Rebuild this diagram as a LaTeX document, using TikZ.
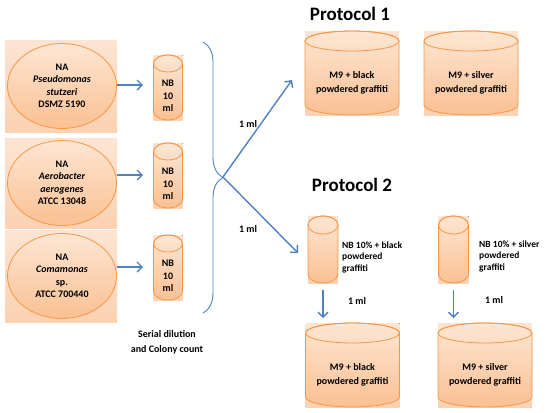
\documentclass[tikz,border=0pt]{standalone}
\usepackage{fontspec}
\setmainfont{Carlito}
\usetikzlibrary{arrows.meta, shapes.geometric, positioning, calc, decorations.pathreplacing, backgrounds}

\definecolor{naranja}{HTML}{F79646}
\definecolor{claro}{HTML}{FDE6D3}
\definecolor{medio}{HTML}{FAC093}
\definecolor{fondoA}{HTML}{FDE4D2}
\definecolor{fondoB}{HTML}{FBD2B2}
\definecolor{azul}{HTML}{4F81BD}

% cilindro alrededor de la cara de un nodo: nombre, radio x, radio y
\newcommand\cilindro[3]{%
    \fill[fondo] ($(#1.north west)+(0,-2*#3)$) rectangle (#1.south east);
    \path[cuerpo] ($(#1.north west)+(0,-#3)$) -- ($(#1.south west)+(0,-#3)$)
        arc[start angle=180, end angle=360, x radius=#2pt, y radius=#3pt]
        -- ($(#1.north east)+(0,-#3)$)
        arc[start angle=0, end angle=180, x radius=#2pt, y radius=#3pt] -- cycle;
    \draw[borde] ($(#1.north)+(0,-#3)$) ellipse [x radius=#2pt, y radius=#3pt];
}

\begin{document}
\begin{tikzpicture}[
    x=1pt, y=-1pt,
    every node/.style={font=\fontsize{10}{12.5}\selectfont\bfseries}
]
    \tikzset{
        fondo/.style={top color=fondoA, bottom color=fondoB},
        borde/.style={draw=naranja, line width=0.8pt},
        cuerpo/.style={borde, top color=claro, bottom color=medio},
        caja/.style={rectangle, inner sep=0pt, outer sep=0pt, fondo},
        placa/.style={ellipse, borde, minimum width=109pt, minimum height=85pt,
            top color=claro, bottom color=medio, align=center, inner sep=0pt},
        tubo/.style={rectangle, minimum width=29pt, minimum height=48pt,
            align=center, inner sep=0pt, outer sep=0pt},
        frasco/.style={tubo, minimum width=94pt, minimum height=64pt,
            font=\fontsize{10}{13.5}\selectfont\bfseries},
        flecha/.style={azul, line width=1.4pt, -{Straight Barb[length=5pt, width=10pt]}},
        llave/.style={azul, line width=0.9pt, decorate, decoration={brace, amplitude=20pt}},
        titulo/.style={font=\fontsize{19}{22}\selectfont\bfseries},
        texto/.style={align=left, anchor=west, inner sep=0pt,
            font=\fontsize{9.5}{11.5}\selectfont\bfseries}
    }
    \useasboundingbox (0,0) rectangle (550,413);

    % Placas
    \node[caja, minimum width=112pt, minimum height=92pt] (b1) at (61,86) {};
    \node[caja, minimum width=112pt, minimum height=90pt] (b2) at (61,183) {};
    \node[caja, minimum width=112pt, minimum height=92pt] (b3) at (61,276) {};
    \node[placa] (p1) at (62,86)  {NA\\\textit{Pseudomonas}\\\textit{stutzeri}\\DSMZ 5190};
    \node[placa] (p2) at (62,183) {NA\\\textit{Aerobacter}\\\textit{aerogenes}\\ATCC 13048};
    \node[placa] (p3) at (62,276) {NA\\\textit{Comamonas}\\sp.\\ATCC 700440};

    % Tubos NB
    \node[tubo] (t1) at (168,96)  {NB\\10\\ml};
    \node[tubo] (t2) at (168,184) {NB\\10\\ml};
    \node[tubo] (t3) at (168,276) {NB\\10\\ml};

    \draw[llave] (203,42) -- (203,313);
    \coordinate (punta) at (223,177);
    \node[align=center, font=\fontsize{10}{15}\selectfont\bfseries] (serial) at (167,342)
        {Serial dilution\\and Colony count};

    % Protocolo 1
    \node[titulo] (prot1) at (350,14) {Protocol 1};
    \node[frasco] (f1) at (352,83) {M9 + black\\powdered graffiti};
    \node[frasco] (f2) at (471,83) {M9 + silver\\powdered graffiti};

    % Protocolo 2
    \node[titulo] (prot2) at (352,185) {Protocol 2};
    \node[tubo, minimum width=30pt, minimum height=49pt] (t4) at (323,258.5) {};
    \node[tubo, minimum width=30pt, minimum height=49pt] (t5) at (453.5,258.5) {};
    \node[texto] (n4) at (342,257) {NB 10\% + black\\powdered\\graffiti};
    \node[texto] (n5) at (479,256) {NB 10\% + silver\\powdered\\graffiti};
    \node[frasco] (f3) at (352.5,375) {M9 + black\\powdered graffiti};
    \node[frasco] (f4) at (485,375)   {M9 + silver\\powdered graffiti};

    \begin{scope}[on background layer]
        \cilindro{t1}{14.5}{8.5}
        \cilindro{t2}{14.5}{8.5}
        \cilindro{t3}{14.5}{8.5}
        \cilindro{t4}{15}{9}
        \cilindro{t5}{15}{9}
        \cilindro{f1}{47}{10}
        \cilindro{f2}{47}{10}
        \cilindro{f3}{47}{10}
        \cilindro{f4}{47}{10}
    \end{scope}

    % Flechas
    \draw[flecha] (p1.east |- 0,85)  -- (143,85);
    \draw[flecha] (p2.east |- 0,175) -- (143,175);
    \draw[flecha] (p3.east |- 0,267) -- (143,267);
    \draw[flecha] (punta) -- ($(f1.west)+(-13,-3)$);
    \draw[flecha] (punta) -- ($(t4.west)+(-10,-5.5)$);
    \draw[flecha, shorten <=7pt, shorten >=25pt] (t4.south) -- (t4.south |- f3.north);
    \draw[flecha, shorten <=7pt, shorten >=25pt] (t5.south) -- (t5.south |- f4.north);
    \node (ml1) at (248,124) {1 ml};
    \node (ml2) at (248,229) {1 ml};
    \node (ml3) at (357,301) {1 ml};
    \node (ml4) at (494,300) {1 ml};
\end{tikzpicture}
\end{document}
